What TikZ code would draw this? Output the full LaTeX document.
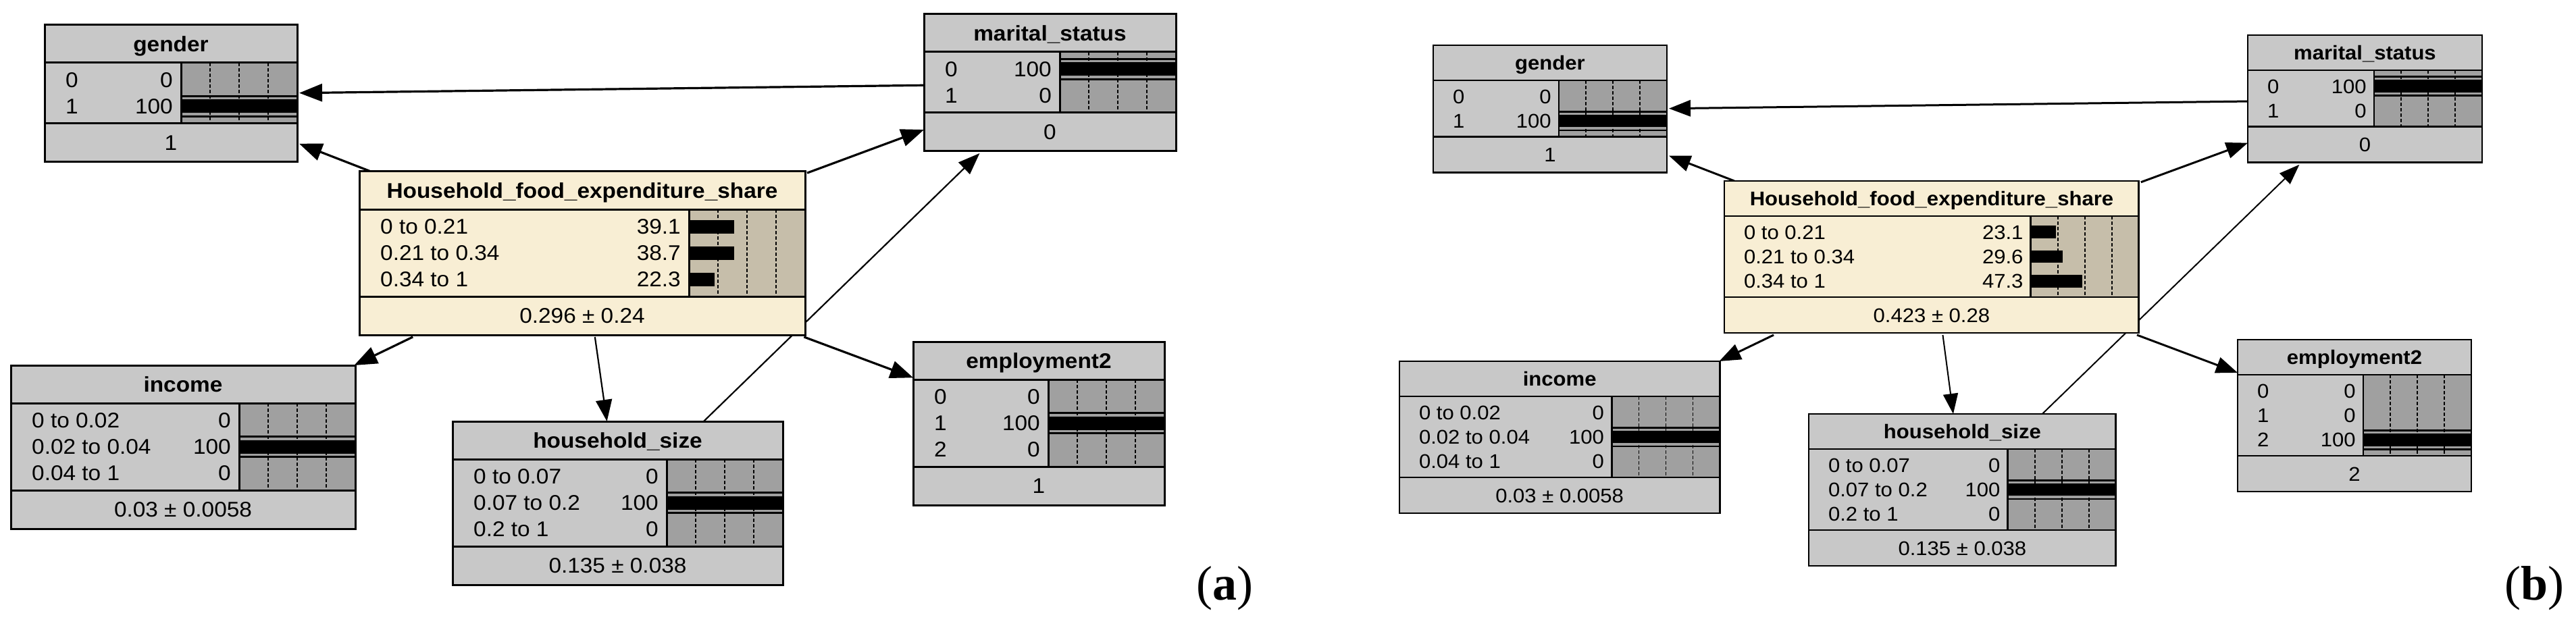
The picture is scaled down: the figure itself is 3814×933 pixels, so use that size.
\documentclass[tikz,border=0pt]{standalone}
\usepackage{fontspec}
\setmainfont{Liberation Sans}[FakeStretch=1.06]
\newfontfamily\panelfont{Liberation Serif}
\usetikzlibrary{arrows.meta}
\definecolor{boxgray}{RGB}{200,200,200}
\definecolor{bargray}{RGB}{160,160,160}
\definecolor{cream}{RGB}{248,238,212}
\definecolor{creambar}{RGB}{198,190,170}
\pgfdeclarelayer{bg}
\pgfsetlayers{bg,main}
\newcommand\BNrowlist{}
\newcommand\BNfoot{}
% #1 name, #2 left, #3 top, #4 scale, #5 width, #6 rows, #7 fill, #8 bar fill, #9 title
\newcommand\BNnode[9]{%
  \pgfmathsetmacro\bnW{#5*#4}%
  \pgfmathsetmacro\bnT{56*#4}%
  \pgfmathsetmacro\bnB{(#6*39+12)*#4}%
  \pgfmathsetmacro\bnH{\bnT+\bnB+57*#4}%
  \pgfmathsetmacro\bnBW{172*#4}%
  \pgfmathsetmacro\bnR{#2+\bnW}%
  \pgfmathsetmacro\bnX{\bnR-\bnBW}%
  \pgfmathsetmacro\bnYa{#3+\bnT}%
  \pgfmathsetmacro\bnYb{\bnYa+\bnB}%
  \pgfmathsetmacro\bnYc{#3+\bnH}%
  \pgfmathsetmacro\bnFS{31.5*#4}%
  \pgfmathsetmacro\bnBL{0.36*\bnFS}%
  \pgfmathsetmacro\bnLW{3*#4}%
  \pgfmathsetmacro\bnDW{1.6*#4}%
  \pgfmathsetmacro\bnS{#4}%
  \pgfmathsetmacro\bnMid{#2+\bnW/2}%
  \node[bnshape, minimum width=\bnW pt, minimum height=\bnH pt, anchor=north west] (#1) at (#2,#3) {};
  \fill[#7] (#2,#3) rectangle (\bnR,\bnYc);
  \fill[#8] (\bnX,\bnYa) rectangle (\bnR,\bnYb);
  \foreach \f in {0.25,0.5,0.75}
    \draw[black, line width=\bnDW pt, dash pattern=on 5pt off 3pt] (\bnX+\f*\bnBW,\bnYa) -- (\bnX+\f*\bnBW,\bnYb);
  \foreach \lab/\val [count=\i from 0] in \BNrowlist {
    \pgfmathsetmacro\bnCY{\bnYa+\bnB/2+(\i-(#6-1)/2)*39*\bnS}
    \pgfmathsetmacro\bnBar{\bnX+\val/100*\bnBW}
    \fill[black] (\bnX,\bnCY-10*\bnS) rectangle (\bnBar,\bnCY+10*\bnS);
    \ifdim\val pt>99pt
      \fill[black] (\bnX,\bnCY-16.5*\bnS) rectangle (\bnR,\bnCY-13.5*\bnS);
      \fill[black] (\bnX,\bnCY+13.5*\bnS) rectangle (\bnR,\bnCY+16.5*\bnS);
    \fi
    \node[bntext, font=\fontsize{\bnFS pt}{\bnFS pt}\selectfont, anchor=base west] (#1-l\i) at (#2+31*\bnS,\bnCY+\bnBL) {\lab};
    \node[bntext, font=\fontsize{\bnFS pt}{\bnFS pt}\selectfont, anchor=base east] (#1-v\i) at (\bnX-12*\bnS,\bnCY+\bnBL) {\val};
  }
  \node[bntext, font=\fontsize{\bnFS pt}{\bnFS pt}\selectfont\bfseries, anchor=base] (#1-t) at (\bnMid,#3+\bnT/2+\bnBL) {#9};
  \node[bntext, font=\fontsize{\bnFS pt}{\bnFS pt}\selectfont, anchor=base] (#1-f) at (\bnMid,\bnYb+28.5*\bnS+\bnBL) {\BNfoot};
  \draw[line width=\bnLW pt] (#2,\bnYa) -- (\bnR,\bnYa) (#2,\bnYb) -- (\bnR,\bnYb) (\bnX,\bnYa) -- (\bnX,\bnYb);
  \draw[line width=\bnLW pt] (#2,#3) rectangle (\bnR,\bnYc);
}
\begin{document}
\begin{tikzpicture}[x=1pt,y=-1pt,
  bnshape/.style={rectangle, inner sep=0pt, outer sep=1.5pt},
  bntext/.style={inner sep=0pt, text=black},
  link/.style={line width=3.2pt, -{Triangle[length=34pt,width=26pt]}},
  linkthin/.style={line width=2.2pt, -{Triangle[length=32pt,width=24pt]}},
  linkb/.style={line width=3pt, -{Triangle[length=32pt,width=24pt]}},
  linkthinb/.style={line width=2pt, -{Triangle[length=30pt,width=22pt]}},
  panellabel/.style={inner sep=0pt, font=\panelfont\fontsize{72pt}{72pt}\selectfont}]
\useasboundingbox (0,0) rectangle (3814,933);
\begin{pgfonlayer}{bg}
\fill[white] (0,0) rectangle (3814,933);
\end{pgfonlayer}

% ---------------- panel (a) ----------------
\renewcommand\BNrowlist{0/0, 1/100}\renewcommand\BNfoot{1}
\BNnode{gA}{66}{37}{1}{374}{2}{boxgray}{bargray}{gender}
\renewcommand\BNrowlist{0/100, 1/0}\renewcommand\BNfoot{0}
\BNnode{mA}{1368}{21}{1}{373}{2}{boxgray}{bargray}{marital\_status}
\renewcommand\BNrowlist{0 to 0.21/39.1, 0.21 to 0.34/38.7, 0.34 to 1/22.3}\renewcommand\BNfoot{0.296 ± 0.24}
\BNnode{hA}{532}{254}{1}{660}{3}{cream}{creambar}{Household\_food\_expenditure\_share}
\renewcommand\BNrowlist{0 to 0.02/0, 0.02 to 0.04/100, 0.04 to 1/0}\renewcommand\BNfoot{0.03 ± 0.0058}
\BNnode{iA}{16}{541}{1}{510}{3}{boxgray}{bargray}{income}
\renewcommand\BNrowlist{0 to 0.07/0, 0.07 to 0.2/100, 0.2 to 1/0}\renewcommand\BNfoot{0.135 ± 0.038}
\BNnode{sA}{670}{624}{1}{489}{3}{boxgray}{bargray}{household\_size}
\renewcommand\BNrowlist{0/0, 1/100, 2/0}\renewcommand\BNfoot{1}
\BNnode{eA}{1352}{506}{1}{372}{3}{boxgray}{bargray}{employment2}

% ---------------- panel (b) ----------------
\renewcommand\BNrowlist{0/0, 1/100}\renewcommand\BNfoot{1}
\BNnode{gB}{2122}{67}{0.93}{372}{2}{boxgray}{bargray}{gender}
\renewcommand\BNrowlist{0/100, 1/0}\renewcommand\BNfoot{0}
\BNnode{mB}{3328}{52}{0.93}{373}{2}{boxgray}{bargray}{marital\_status}
\renewcommand\BNrowlist{0 to 0.21/23.1, 0.21 to 0.34/29.6, 0.34 to 1/47.3}\renewcommand\BNfoot{0.423 ± 0.28}
\BNnode{hB}{2553}{268}{0.93}{660}{3}{cream}{creambar}{Household\_food\_expenditure\_share}
\renewcommand\BNrowlist{0 to 0.02/0, 0.02 to 0.04/100, 0.04 to 1/0}\renewcommand\BNfoot{0.03 ± 0.0058}
\BNnode{iB}{2072}{535}{0.93}{510}{3}{boxgray}{bargray}{income}
\renewcommand\BNrowlist{0 to 0.07/0, 0.07 to 0.2/100, 0.2 to 1/0}\renewcommand\BNfoot{0.135 ± 0.038}
\BNnode{sB}{2678}{613}{0.93}{489}{3}{boxgray}{bargray}{household\_size}
\renewcommand\BNrowlist{0/0, 1/0, 2/100}\renewcommand\BNfoot{2}
\BNnode{eB}{3313}{503}{0.93}{372}{3}{boxgray}{bargray}{employment2}

% ---------------- connectors ----------------
\begin{pgfonlayer}{bg}
\draw[link] (mA) -- (gA);
\draw[link] (hA) -- (gA);
\draw[link] (hA) -- (mA);
\draw[link] (hA) -- (iA);
\draw[linkthin] (hA) -- (sA);
\draw[link] (hA) -- (eA);
\draw[linkthin] (sA) -- (mA);
\draw[linkb] (mB) -- (gB);
\draw[linkb] (hB) -- (gB);
\draw[linkb] (hB) -- (mB);
\draw[linkb] (hB) -- (iB);
\draw[linkthinb] (hB) -- (sB);
\draw[linkb] (hB) -- (eB);
\draw[linkthinb] (sB) -- (mB);
\end{pgfonlayer}

\node[panellabel, anchor=base east] (labA) at (1856,888) {(\textbf{a})};
\node[panellabel, anchor=base east] (labB) at (3797,888) {(\textbf{b})};
\end{tikzpicture}
\end{document}
